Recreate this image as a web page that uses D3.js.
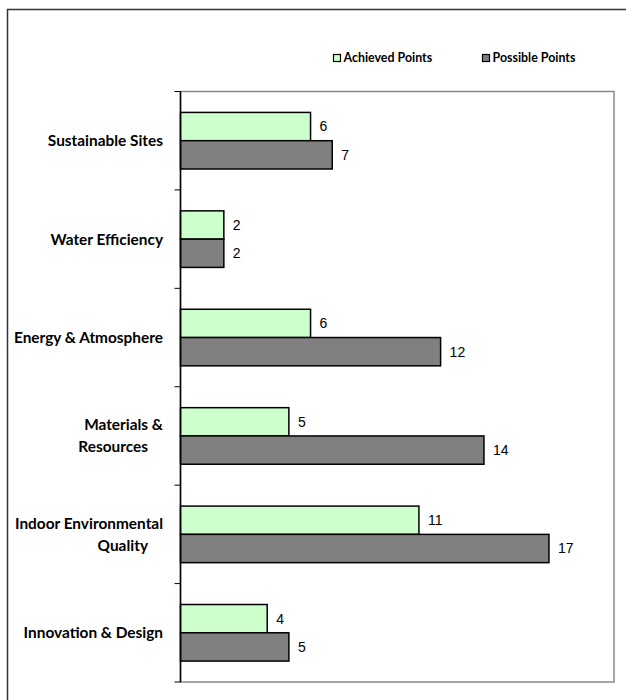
<!DOCTYPE html>
<html>
<head>
<meta charset="utf-8">
<script src="https://cdn.jsdelivr.net/npm/d3@7"></script>
<style>
  body { margin: 0; background: #fff; }
</style>
</head>
<body>
<svg id="chart" width="626" height="700"></svg>
<script>
const categories = [
  ["Sustainable Sites"],
  ["Water Efficiency"],
  ["Energy & Atmosphere"],
  ["Materials &", "Resources"],
  ["Indoor Environmental", "Quality"],
  ["Innovation & Design"]
];
const achieved = [6, 2, 6, 5, 11, 4];
const possible = [7, 2, 12, 14, 17, 5];
const seriesNames = ["Achieved Points", "Possible Points"];
const seriesColors = ["#ccffcc", "#808080"];

const svg = d3.select('#chart');
const plotLeft = 180.5, plotRight = 614, plotTop = 91.5, plotBottom = 682;
const labelFont = "Lato, 'Open Sans', sans-serif";

// outer frame
svg.append("rect")
  .attr("x", 7.5).attr("y", 9.5)
  .attr("width", 700).attr("height", 700)
  .attr("fill", "none")
  .attr("stroke", "#333")
  .attr("stroke-width", 1.5);

const x = d3.scaleLinear().domain([0, 20]).range([plotLeft, plotRight]);
const y = d3.scaleBand().domain(d3.range(categories.length)).range([plotTop, plotBottom]);
const inner = d3.scaleBand().domain([0, 1]).range([0, y.bandwidth()]).paddingOuter(0.74);

// plot area border (gray)
svg.append("rect")
  .attr("x", plotLeft).attr("y", plotTop)
  .attr("width", plotRight - plotLeft).attr("height", plotBottom - plotTop)
  .attr("fill", "none")
  .attr("stroke", "#888")
  .attr("stroke-width", 1.5);

const rows = categories.map((c, i) => ({ i, vals: [achieved[i], possible[i]] }));

const g = svg.append("g");
g.selectAll("g.cat")
  .data(rows)
  .join("g")
  .attr("class", "cat")
  .each(function(d) {
    const gg = d3.select(this);
    d.vals.forEach((v, s) => {
      const by = y(d.i) + inner(s);
      gg.append("rect")
        .attr("x", x(0))
        .attr("y", by)
        .attr("width", x(v) - x(0))
        .attr("height", inner.bandwidth())
        .attr("fill", seriesColors[s])
        .attr("stroke", "#000")
        .attr("stroke-width", 1.5);
      gg.append("text")
        .attr("x", x(v) + 9)
        .attr("y", by + inner.bandwidth() / 2)
        .attr("dy", "0.35em")
        .style("font-family", "Arial, 'Liberation Sans', sans-serif")
        .style("font-size", "14px")
        .text(v);
    });
  });

// y axis with ticks at category boundaries
const axis = svg.append("g");
axis.append("line")
  .attr("x1", plotLeft).attr("x2", plotLeft)
  .attr("y1", plotTop).attr("y2", plotBottom)
  .attr("stroke", "#000").attr("stroke-width", 1.5);
axis.selectAll("line.tick")
  .data(d3.range(categories.length + 1))
  .join("line")
  .attr("class", "tick")
  .attr("x1", plotLeft - 6).attr("x2", plotLeft)
  .attr("y1", i => i < categories.length ? y(i) : plotBottom)
  .attr("y2", i => i < categories.length ? y(i) : plotBottom)
  .attr("stroke", "#000");

// category labels
svg.selectAll("text.cat")
  .data(categories)
  .join("text")
  .attr("class", "cat")
  .attr("text-anchor", "end")
  .style("font-family", labelFont)
  .style("font-weight", "bold")
  .style("font-size", "15.4px")
  .attr("fill", "#000")
  .each(function(lines, i) {
    const cy = y(i) + y.bandwidth() / 2;
    const lh = 21.7;
    const y0 = cy - (lines.length - 1) * lh / 2;
    lines.forEach((t, k) => {
      d3.select(this).append("tspan")
        .attr("x", k === 0 ? 163 : 148)
        .attr("y", y0 + k * lh)
        .attr("dy", "0.35em")
        .text(t);
    });
  });

// legend
const legendX = [333, 482];
const legend = svg.selectAll("g.legend")
  .data(seriesNames)
  .join("g")
  .attr("class", "legend")
  .attr("transform", (d, i) => `translate(${legendX[i]}, 58)`);
legend.append("rect")
  .attr("x", 0.5).attr("y", -3.5)
  .attr("width", 7).attr("height", 7)
  .attr("fill", (d, i) => seriesColors[i])
  .attr("stroke", "#000")
  .attr("stroke-width", 1.2);
legend.append("text")
  .attr("x", 10.5)
  .attr("dy", "0.35em")
  .style("font-family", labelFont)
  .style("font-weight", "bold")
  .style("font-size", "12.4px")
  .text(d => d);
</script>
</body>
</html>
